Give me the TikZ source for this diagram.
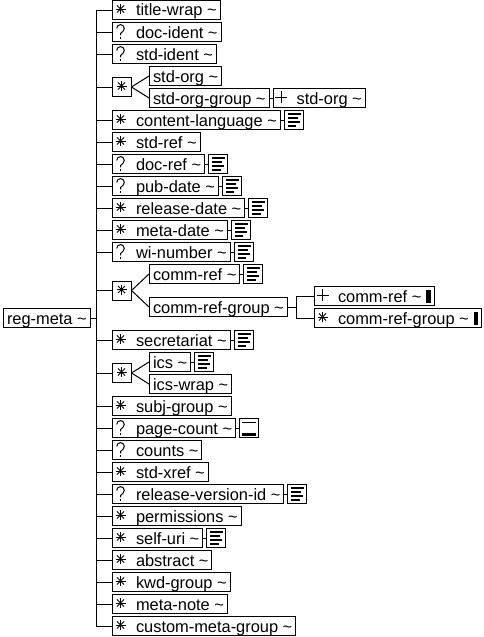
\documentclass[tikz,border=0pt]{standalone}
\usepackage{fontspec}
\newfontfamily\elfont{Liberation Sans}
\usetikzlibrary{positioning}
\tikzset{
  conn/.style={line width=1pt},
  el/.style={draw, line width=1pt, anchor=west, inner xsep=3.5pt, inner ysep=0pt,
    minimum height=19pt, text height=12pt, text depth=0pt,
    font=\elfont\fontsize{16.4}{19}\selectfont},
  iconbox/.style={draw, line width=1pt, minimum width=19pt, minimum height=19pt, inner sep=0pt},
  choicebox/.style={draw, line width=1pt, minimum width=19pt, minimum height=19pt, inner sep=0pt},
  starsym/.pic={
    \draw[line width=1pt] (0,-6) -- (0,4);
    \draw[line width=1pt] (-5,-1) -- (5,-1);
    \draw[line width=1pt] (-3.6,-4.6) -- (3.6,2.6);
    \draw[line width=1pt] (-3.6,2.6) -- (3.6,-4.6);
  },
  optsym/.pic={
    \draw[line width=1pt] (-3.8,-3.6) arc[start angle=180, end angle=405, radius=3.8] -- (0,1.6) -- (0,3.4);
    \fill (-0.7,5.2) rectangle (0.7,6.6);
  },
  plussym/.pic={
    \draw[line width=1pt] (0,-7) -- (0,5);
    \draw[line width=1pt] (-6,-1) -- (6,-1);
  },
  doclines/.pic={
    \draw[line width=2.2pt] (-6,-6) -- ++(13,0);
    \draw[line width=2.2pt] (-6,-2) -- ++(10,0);
    \draw[line width=2.2pt] (-6,2) -- ++(12,0);
    \draw[line width=2.2pt] (-6,6) -- ++(8.5,0);
  },
  pagelines/.pic={
    \draw[line width=1.3pt] (-7,-5.5) -- (7,-5.5);
    \draw[line width=2.6pt] (-7,6.6) -- (7,6.6);
  }
}
\newcommand\elm[5]{%
  \node[el] (#1) at (#3,#4) {\hspace*{20pt}#5~\textasciitilde};
  \pic at ([xshift=8.5pt]#1.west) {#2};
}
\newcommand\pel[4]{\node[el] (#1) at (#2,#3) {#4~\textasciitilde};}
\newcommand\docicon[1]{%
  \node[iconbox, right=3pt of #1] (#1i) {};
  \draw[conn] (#1.east) -- (#1i.west);
  \pic at (#1i.center) {doclines};
}
\newcommand\pageicon[1]{%
  \node[iconbox, right=3pt of #1] (#1i) {};
  \draw[conn] (#1.east) -- (#1i.west);
  \pic at (#1i.center) {pagelines};
}
\newcommand\blackbar{\hspace{5pt}\rule[-1pt]{4.5pt}{13pt}}
\begin{document}
\begin{tikzpicture}[x=1pt, y=-1pt]
\useasboundingbox (0,0) rectangle (484,637);
% root
\node[el] (rm) at (3,318) {reg-meta~\textasciitilde};
\coordinate (tk) at (96,318);
\draw[conn] (rm.east) -- (tk);
% children
\elm{tw}{starsym}{112}{10}{title-wrap}
\elm{di}{optsym}{112}{32}{doc-ident}
\elm{si}{optsym}{112}{54}{std-ident}
\node[choicebox] (c1) at (121.5,87) {};
\pic at (c1.center) {starsym};
\pel{so}{149}{76}{std-org}
\pel{sog}{149}{98}{std-org-group}
\node[el, right=3pt of sog] (sop) {\hspace*{20pt}std-org~\textasciitilde};
\pic at ([xshift=8.5pt]sop.west) {plussym};
\draw[conn] (sog.east) -- (sop.west);
\draw[conn] (c1.east) -- (so.west);
\draw[conn] (c1.east) -- (sog.west);
\elm{cl}{starsym}{112}{120}{content-language}\docicon{cl}
\elm{sr}{starsym}{112}{142}{std-ref}
\elm{dr}{optsym}{112}{164}{doc-ref}\docicon{dr}
\elm{pd}{optsym}{112}{186}{pub-date}\docicon{pd}
\elm{rd}{starsym}{112}{208}{release-date}\docicon{rd}
\elm{md}{starsym}{112}{230}{meta-date}\docicon{md}
\elm{wn}{optsym}{112}{252}{wi-number}\docicon{wn}
\node[choicebox] (c2) at (121.5,290.5) {};
\pic at (c2.center) {starsym};
\pel{cr}{149}{274}{comm-ref}\docicon{cr}
\pel{crg}{149}{307}{comm-ref-group}
\draw[conn] (c2.east) -- (cr.west);
\draw[conn] (c2.east) -- (crg.west);
\coordinate (br) at (296,307);
\node[el] (crp) at (314,296) {\hspace*{20pt}comm-ref~\textasciitilde\blackbar};
\pic at ([xshift=8.5pt]crp.west) {plussym};
\node[el] (crs) at (314,318) {\hspace*{20pt}comm-ref-group~\textasciitilde\blackbar};
\pic at ([xshift=8.5pt]crs.west) {starsym};
\draw[conn] (crg.east) -- (br);
\draw[conn] (crp.west) -- (crp.west -| br) -- (crs.west -| br) -- (crs.west);
\elm{sc}{starsym}{112}{340}{secretariat}\docicon{sc}
\node[choicebox] (c3) at (121.5,373) {};
\pic at (c3.center) {starsym};
\pel{ic}{149}{362}{ics}\docicon{ic}
\pel{iw}{149}{384}{ics-wrap}
\draw[conn] (c3.east) -- (ic.west);
\draw[conn] (c3.east) -- (iw.west);
\elm{sg}{starsym}{112}{406}{subj-group}
\elm{pc}{optsym}{112}{428}{page-count}\pageicon{pc}
\elm{ct}{optsym}{112}{450}{counts}
\elm{sx}{starsym}{112}{472}{std-xref}
\elm{rv}{optsym}{112}{494}{release-version-id}\docicon{rv}
\elm{pm}{starsym}{112}{516}{permissions}
\elm{su}{starsym}{112}{538}{self-uri}\docicon{su}
\elm{ab}{starsym}{112}{560}{abstract}
\elm{kg}{starsym}{112}{582}{kwd-group}
\elm{mn}{starsym}{112}{604}{meta-note}
\elm{cm}{starsym}{112}{626}{custom-meta-group}
% trunk
\draw[conn] (tw.west -| tk) -- (cm.west -| tk);
\foreach \n in {tw,di,si,c1,cl,sr,dr,pd,rd,md,wn,c2,sc,c3,sg,pc,ct,sx,rv,pm,su,ab,kg,mn,cm}{
  \draw[conn] (\n.west -| tk) -- (\n.west);
}
\end{tikzpicture}
\end{document}
